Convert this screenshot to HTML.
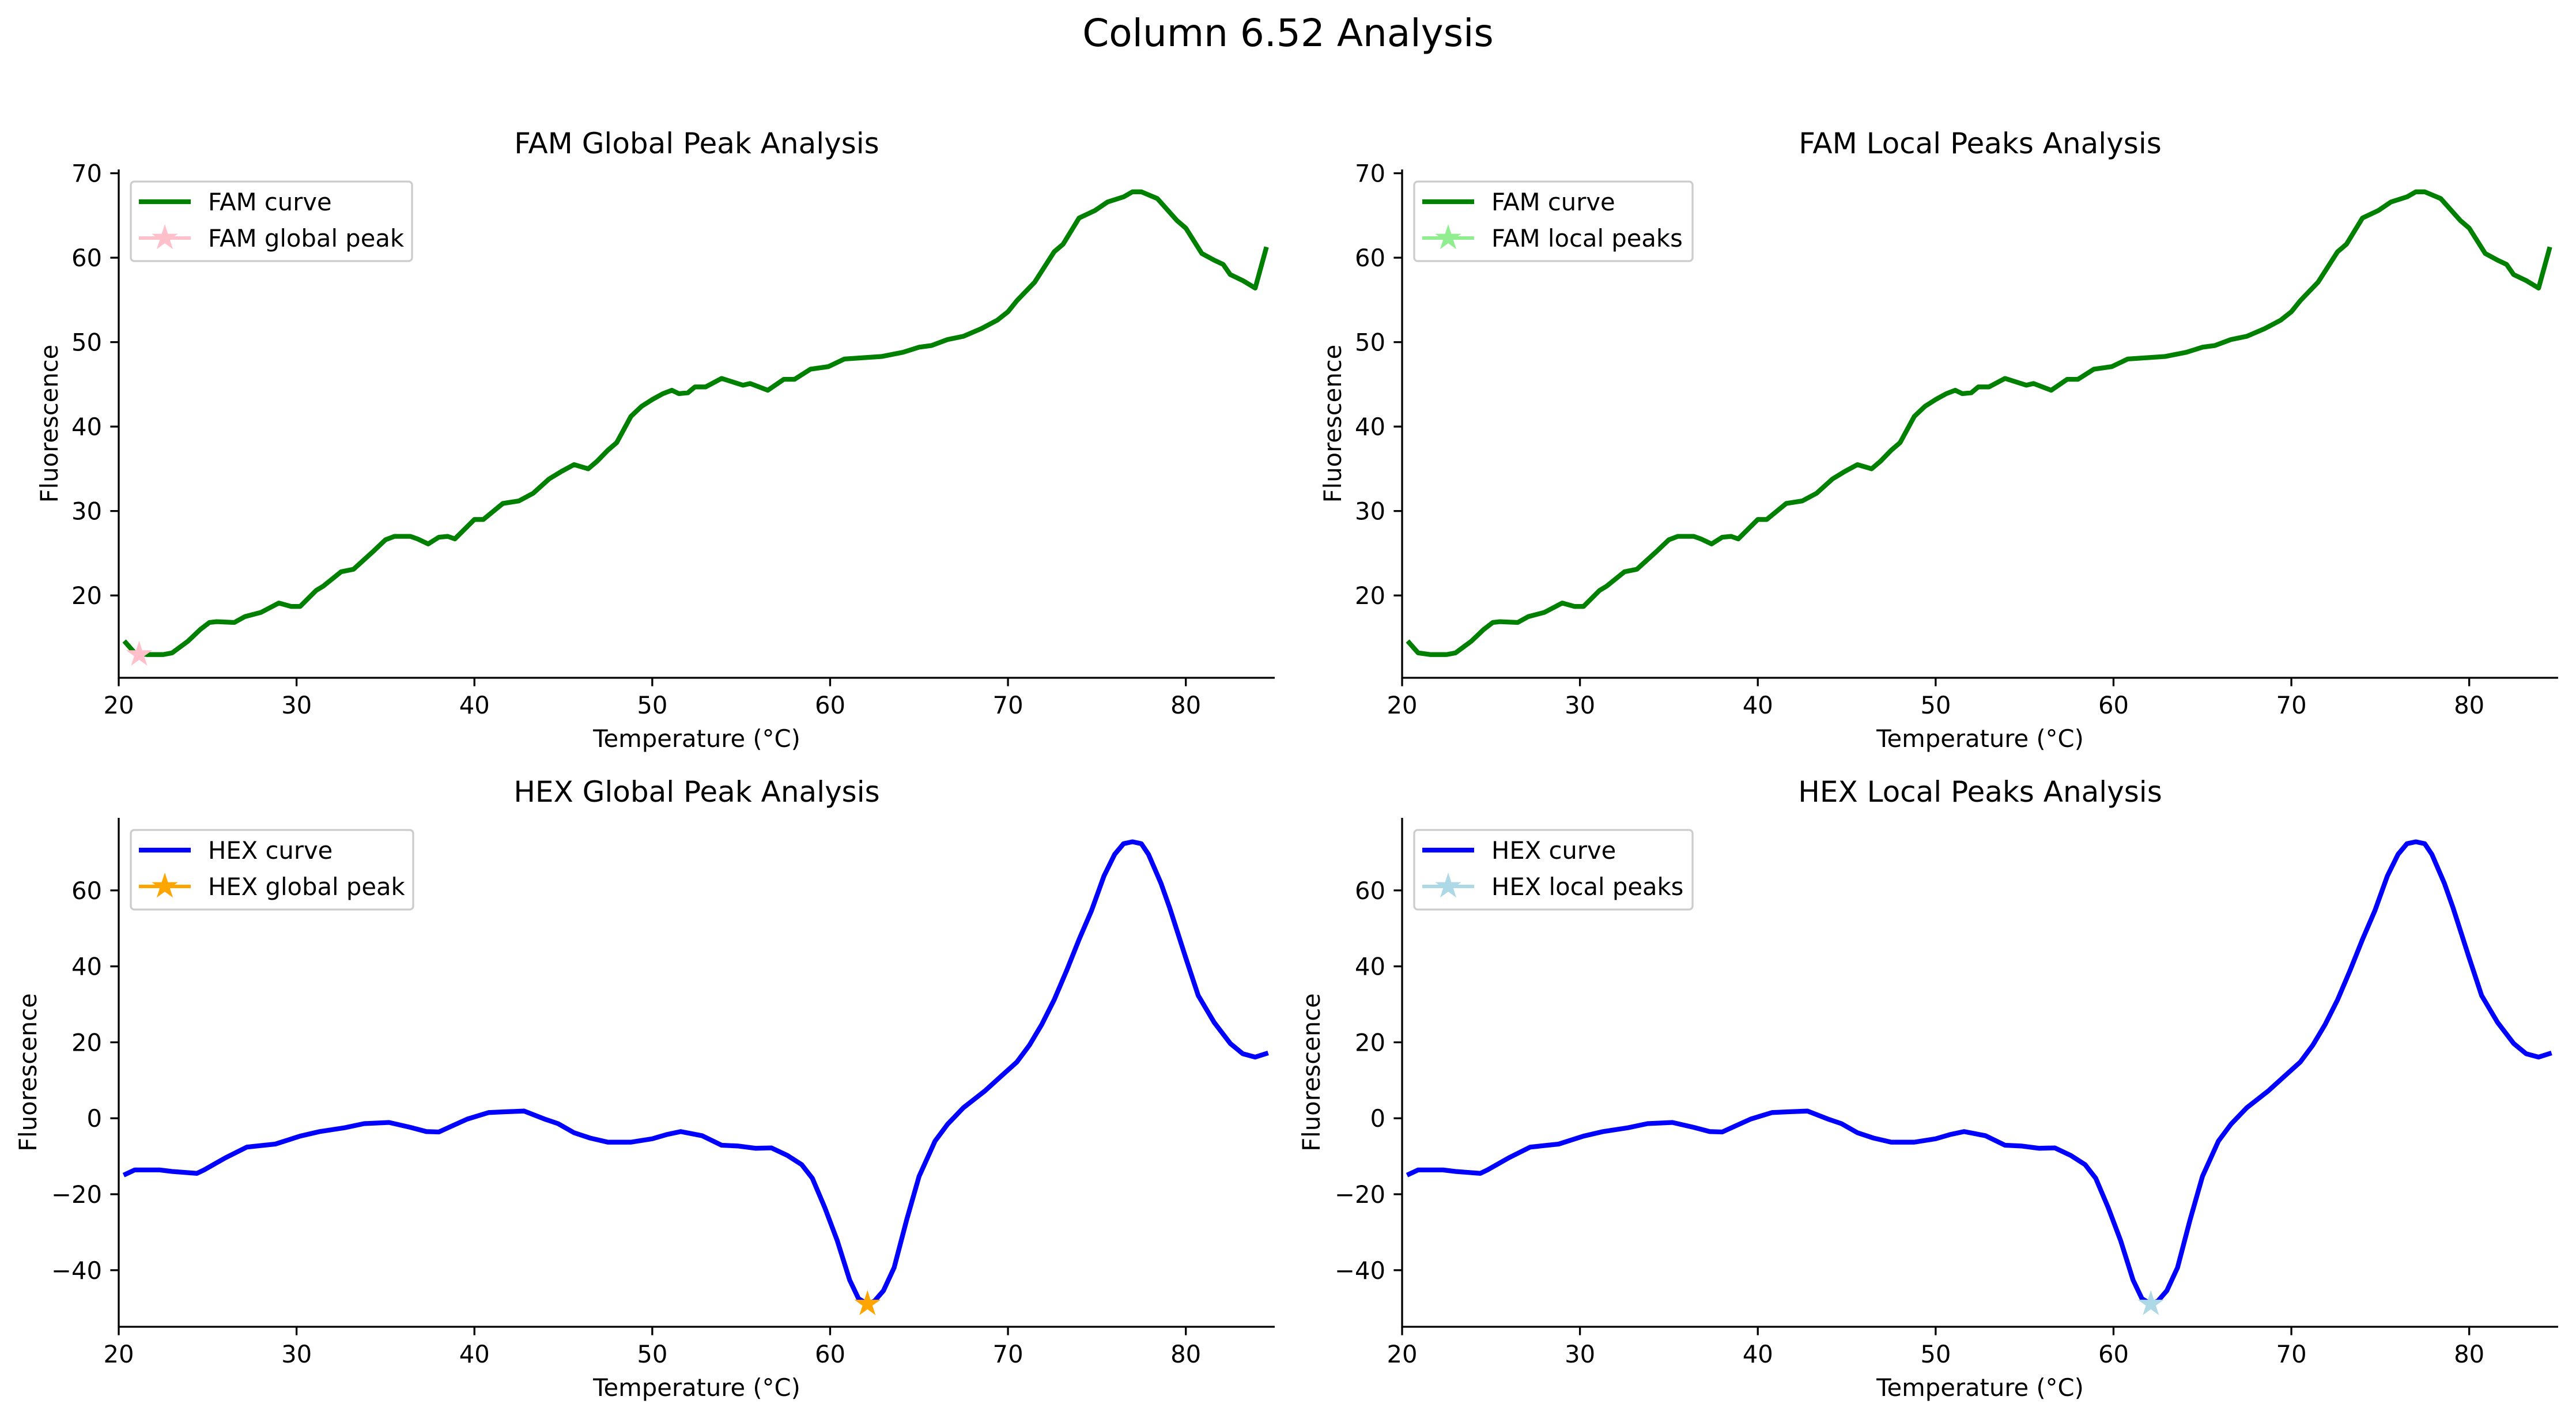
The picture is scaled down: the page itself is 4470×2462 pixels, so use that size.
<!DOCTYPE html>
<html><head><meta charset="utf-8"><style>
html,body{margin:0;padding:0;background:#fff;}
svg{display:block;font-family:"DejaVu Sans","Liberation Sans",sans-serif;}
</style></head><body>
<svg id="fig" width="4470" height="2462" viewBox="0 0 4470 2462" xmlns="http://www.w3.org/2000/svg">
<rect width="4470" height="2462" fill="#fff"/>
<text x="2235" y="80" font-size="66" text-anchor="middle">Column 6.52 Analysis</text>
</svg>
<script>
const temps = [20.4,20.9,21.6,22.5,23.0,23.9,24.6,25.1,25.5,26.5,27.1,28.0,29.0,29.7,30.2,31.1,31.5,32.5,33.2,34.3,35.0,35.5,36.4,36.8,37.4,38.0,38.5,38.9,40.0,40.5,41.6,42.5,43.3,44.2,44.9,45.6,46.4,46.9,47.5,48.0,48.8,49.4,50.0,50.6,51.1,51.5,52.0,52.4,53.0,53.9,55.1,55.5,56.5,57.4,58.0,58.9,59.9,60.8,62.9,64.1,65.0,65.7,66.6,67.5,68.5,69.4,70.0,70.5,71.5,72.6,73.1,74.0,74.9,75.6,76.5,77.0,77.5,78.4,79.5,80.0,80.9,81.6,82.1,82.5,83.2,83.9,84.5];
const famValues = [14.4,13.2,13.0,13.0,13.2,14.6,16.0,16.8,16.9,16.8,17.5,18.0,19.1,18.7,18.7,20.6,21.1,22.8,23.1,25.2,26.6,27.0,27.0,26.7,26.1,26.9,27.0,26.7,29.0,29.0,30.9,31.2,32.1,33.8,34.7,35.5,35.0,35.9,37.2,38.1,41.2,42.4,43.2,43.9,44.3,43.9,44.0,44.7,44.7,45.7,44.9,45.1,44.3,45.6,45.6,46.8,47.1,48.0,48.3,48.8,49.4,49.6,50.3,50.7,51.6,52.6,53.6,54.9,57.1,60.7,61.6,64.7,65.6,66.6,67.2,67.8,67.8,67.0,64.4,63.5,60.5,59.7,59.2,58.0,57.3,56.4,61.0];
const hexTemps = [20.4,20.9,22.3,23.0,24.4,24.8,26.0,27.2,27.8,28.8,30.2,31.3,32.7,33.8,35.2,36.4,37.3,38.0,38.7,39.6,40.8,41.7,42.8,44.0,44.7,45.6,46.5,47.5,48.8,50.0,50.8,51.6,52.8,53.9,54.8,55.8,56.7,57.6,58.4,59.0,59.7,60.4,61.1,61.6,62.1,62.5,63.0,63.6,64.3,65.0,65.9,66.6,67.5,68.7,69.6,70.5,71.2,71.9,72.6,73.3,74.0,74.7,75.4,76.0,76.5,77.0,77.5,77.9,78.6,79.1,80.0,80.7,81.6,82.5,83.2,83.9,84.5];
const hexValues = [-14.7,-13.6,-13.6,-14.0,-14.5,-13.6,-10.4,-7.6,-7.3,-6.8,-4.7,-3.5,-2.5,-1.4,-1.1,-2.4,-3.5,-3.6,-2.1,-0.2,1.5,1.7,1.9,-0.3,-1.4,-3.8,-5.2,-6.3,-6.3,-5.4,-4.3,-3.5,-4.6,-7.1,-7.3,-7.9,-7.8,-9.8,-12.2,-15.8,-23.5,-32.2,-42.6,-47.5,-48.9,-48.1,-45.4,-39.3,-26.8,-15.3,-6.0,-1.6,2.8,7.2,11.0,14.8,19.2,24.7,31.2,38.9,47.1,54.7,63.8,69.5,72.3,72.8,72.3,69.5,61.9,55.3,42.2,32.3,25.2,19.7,17.0,16.1,17.0];
const famGlobalPeakX = [21.15];
const famGlobalPeakY = [13.0];
const famLocalPeakX = [];
const famLocalPeakY = [];
const hexGlobalPeakX = [62.1];
const hexGlobalPeakY = [-48.9];
const hexLocalPeakX = [62.1];
const hexLocalPeakY = [-48.9];
const xTicks = [20,30,40,50,60,70,80];
const famYTicks = [20,30,40,50,60,70];
const hexYTicks = [-40,-20,0,20,40,60];

const NS = "http://www.w3.org/2000/svg";
const fig = document.getElementById('fig');
function mk(tag, parent){ const e=document.createElementNS(NS,tag); parent.appendChild(e); return e; }
function fmt(v){ return v<0 ? '\u2212'+Math.abs(v) : String(v); }
function starPts(cx,cy,R){ const r=R*0.38; let p=[]; for(let i=0;i<10;i++){ const a=-Math.PI/2+i*Math.PI/5; const rr=i%2?r:R; p.push((cx+rr*Math.cos(a)).toFixed(1)+','+(cy+rr*Math.sin(a)).toFixed(1)); } return p.join(' '); }

function panel(cfg){
  const L=cfg.left, R=cfg.left+2006, T=cfg.top, B=cfg.bottom;
  const sx = v => L + (v-20)/(85-20)*(R-L);
  const sy = v => B - (v-cfg.ymin)/(cfg.ymax-cfg.ymin)*(B-T);
  const g = mk('g', fig);
  
  
  const title = mk('text', g);
  
  
  title.setAttribute('x', (L+R)/2); title.setAttribute('y', T-28);
  title.setAttribute('font-size', '50'); title.setAttribute('text-anchor', 'middle');
  title.textContent = cfg.title;
  // curve
  const line = mk('polyline', g);
  
  
  line.setAttribute('points', cfg.xs.map((x,i)=>sx(x).toFixed(1)+','+sy(cfg.ys[i]).toFixed(1)).join(' '));
  line.setAttribute('fill','none'); line.setAttribute('stroke',cfg.color); line.setAttribute('stroke-width','8.3'); line.setAttribute('stroke-linejoin','round'); line.setAttribute('stroke-linecap','square');
  cfg.px.forEach((x,i)=>{
    const s = mk('polygon', g);
    
    
    s.setAttribute('points', starPts(sx(x), sy(cfg.py[i]), 24));
    s.setAttribute('fill', cfg.peakColor);
  });
  // spines
  const ax = mk('path', g);
  
  
  ax.setAttribute('d', `M${L},${T} L${L},${B} L${R},${B}`);
  ax.setAttribute('fill','none'); ax.setAttribute('stroke','#000'); ax.setAttribute('stroke-width','3.3');
  xTicks.forEach(v=>{
    const t = mk('line', g);
    
    
    t.setAttribute('x1', sx(v)); t.setAttribute('x2', sx(v)); t.setAttribute('y1', B); t.setAttribute('y2', B+14.6);
    t.setAttribute('stroke','#000'); t.setAttribute('stroke-width','3.3');
    const lb = mk('text', g);
    
    
    lb.setAttribute('x', sx(v)); lb.setAttribute('y', B+62); lb.setAttribute('font-size','41.7'); lb.setAttribute('text-anchor','middle');
    lb.textContent = fmt(v);
  });
  cfg.yTicks.forEach(v=>{
    const t = mk('line', g);
    
    
    t.setAttribute('x1', L-14.6); t.setAttribute('x2', L); t.setAttribute('y1', sy(v)); t.setAttribute('y2', sy(v));
    t.setAttribute('stroke','#000'); t.setAttribute('stroke-width','3.3');
    const lb = mk('text', g);
    
    
    lb.setAttribute('x', L-29); lb.setAttribute('y', sy(v)+15); lb.setAttribute('font-size','41.7'); lb.setAttribute('text-anchor','end');
    lb.textContent = fmt(v);
  });
  const xl = mk('text', g);
  
  
  xl.setAttribute('x', (L+R)/2); xl.setAttribute('y', B+120); xl.setAttribute('font-size','41.7'); xl.setAttribute('text-anchor','middle');
  xl.textContent = 'Temperature (\u00b0C)';
  const yl = mk('text', g);
  
  
  const yx = cfg.ylabX, yc=(T+B)/2;
  yl.setAttribute('x', yx); yl.setAttribute('y', yc); yl.setAttribute('font-size','41.7'); yl.setAttribute('text-anchor','middle');
  yl.setAttribute('transform', `rotate(-90 ${yx} ${yc})`);
  yl.textContent = 'Fluorescence';
  // legend
  const lg = mk('g', g);
  
  
  const box = mk('rect', lg);
  
  
  box.setAttribute('x', L+21); box.setAttribute('y', T+21); box.setAttribute('width', cfg.legW); box.setAttribute('height', 138);
  box.setAttribute('rx','6'); box.setAttribute('fill','#fff'); box.setAttribute('fill-opacity','0.8'); box.setAttribute('stroke','#ccc'); box.setAttribute('stroke-width','3.3');
  const r1 = T+21+35, r2 = T+21+98;
  const h1 = mk('line', lg);
  
  
  h1.setAttribute('x1', L+35); h1.setAttribute('x2', L+125); h1.setAttribute('y1', r1); h1.setAttribute('y2', r1);
  h1.setAttribute('stroke', cfg.color); h1.setAttribute('stroke-width','8.3');
  const t1 = mk('text', lg);
  
  
  t1.setAttribute('x', L+155); t1.setAttribute('y', r1+15); t1.setAttribute('font-size','41.7');
  t1.textContent = cfg.leg1;
  const h2 = mk('line', lg);
  
  
  h2.setAttribute('x1', L+35); h2.setAttribute('x2', L+125); h2.setAttribute('y1', r2); h2.setAttribute('y2', r2);
  h2.setAttribute('stroke', cfg.peakColor); h2.setAttribute('stroke-width','6');
  const s2 = mk('polygon', lg);
  
  
  s2.setAttribute('points', starPts(L+80, r2, 24)); s2.setAttribute('fill', cfg.peakColor);
  const t2 = mk('text', lg);
  
  
  t2.setAttribute('x', L+155); t2.setAttribute('y', r2+15); t2.setAttribute('font-size','41.7');
  t2.textContent = cfg.leg2;
}

panel({name:'fam-global-panel', left:206, top:294, bottom:1176, ymin:10.25, ymax:70.45, xs:temps, ys:famValues, px:famGlobalPeakX, py:famGlobalPeakY, color:'green', peakColor:'pink', yTicks:famYTicks, title:'FAM Global Peak Analysis', leg1:'FAM curve', leg2:'FAM global peak', legW:488, ylabX:100});
panel({name:'fam-local-panel', left:2433, top:294, bottom:1176, ymin:10.25, ymax:70.45, xs:temps, ys:famValues, px:famLocalPeakX, py:famLocalPeakY, color:'green', peakColor:'lightgreen', yTicks:famYTicks, title:'FAM Local Peaks Analysis', leg1:'FAM curve', leg2:'FAM local peaks', legW:483, ylabX:2327});
panel({name:'hex-global-panel', left:206, top:1419, bottom:2302, ymin:-54.9, ymax:79.1, xs:hexTemps, ys:hexValues, px:hexGlobalPeakX, py:hexGlobalPeakY, color:'blue', peakColor:'orange', yTicks:hexYTicks, title:'HEX Global Peak Analysis', leg1:'HEX curve', leg2:'HEX global peak', legW:490, ylabX:63});
panel({name:'hex-local-panel', left:2433, top:1419, bottom:2302, ymin:-54.9, ymax:79.1, xs:hexTemps, ys:hexValues, px:hexLocalPeakX, py:hexLocalPeakY, color:'blue', peakColor:'lightblue', yTicks:hexYTicks, title:'HEX Local Peaks Analysis', leg1:'HEX curve', leg2:'HEX local peaks', legW:483, ylabX:2290});
</script>
</body></html>
